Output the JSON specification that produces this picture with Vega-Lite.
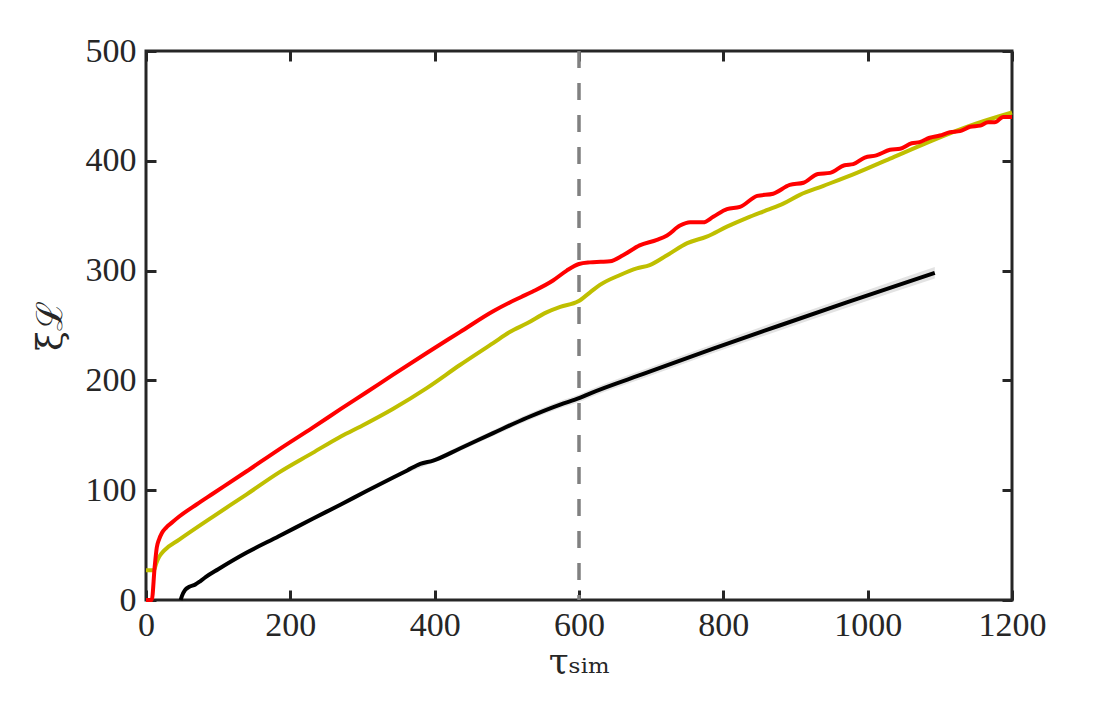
{
  "$schema": "https://vega.github.io/schema/vega-lite/v6.json",
  "width": 866,
  "height": 549,
  "autosize": {"type": "none"},
  "padding": {"left": 146, "top": 51, "right": 105, "bottom": 107},
  "background": "white",
  "config": {
    "view": {"stroke": "#262626", "strokeWidth": 3},
    "font": "Liberation Serif",
    "axis": {
      "grid": false,
      "domain": false,
      "tickColor": "#262626",
      "tickWidth": 3,
      "tickSize": -10,
      "labelFont": "Liberation Serif",
      "labelFontSize": 34,
      "labelColor": "#262626",
      "labelFlush": false,
      "format": "d",
      "titleFont": "DejaVu Serif",
      "titleFontWeight": "normal",
      "titleColor": "#262626"
    }
  },
  "datasets": {
    "band": [
      {"t": 362, "lo": 116, "hi": 120},
      {"t": 398, "lo": 125, "hi": 129},
      {"t": 435, "lo": 135.5, "hi": 140.5},
      {"t": 481, "lo": 149.3, "hi": 154.7},
      {"t": 528, "lo": 163, "hi": 169},
      {"t": 574, "lo": 174.8, "hi": 181.2},
      {"t": 601, "lo": 180.6, "hi": 187.4},
      {"t": 615, "lo": 184.5, "hi": 191.5},
      {"t": 694, "lo": 203.2, "hi": 210.8},
      {"t": 786, "lo": 225, "hi": 233},
      {"t": 878, "lo": 245.5, "hi": 254.5},
      {"t": 971, "lo": 266.2, "hi": 275.8},
      {"t": 1093, "lo": 292.8, "hi": 303.2}
    ],
    "curves": [
      {"series": "black", "t": 48, "v": 0},
      {"series": "black", "t": 50, "v": 4},
      {"series": "black", "t": 54, "v": 9},
      {"series": "black", "t": 60, "v": 12},
      {"series": "black", "t": 68, "v": 14},
      {"series": "black", "t": 75, "v": 17},
      {"series": "black", "t": 83, "v": 21},
      {"series": "black", "t": 100, "v": 28},
      {"series": "black", "t": 139, "v": 43},
      {"series": "black", "t": 184, "v": 58},
      {"series": "black", "t": 231, "v": 74},
      {"series": "black", "t": 270, "v": 87},
      {"series": "black", "t": 305, "v": 99},
      {"series": "black", "t": 362, "v": 118},
      {"series": "black", "t": 380, "v": 124},
      {"series": "black", "t": 398, "v": 127},
      {"series": "black", "t": 435, "v": 138},
      {"series": "black", "t": 481, "v": 152},
      {"series": "black", "t": 528, "v": 166},
      {"series": "black", "t": 574, "v": 178},
      {"series": "black", "t": 601, "v": 184},
      {"series": "black", "t": 615, "v": 188},
      {"series": "black", "t": 694, "v": 207},
      {"series": "black", "t": 786, "v": 229},
      {"series": "black", "t": 878, "v": 250},
      {"series": "black", "t": 971, "v": 271},
      {"series": "black", "t": 1093, "v": 298},
      {"series": "yellow", "t": 0, "v": 27},
      {"series": "yellow", "t": 5, "v": 27},
      {"series": "yellow", "t": 11, "v": 27},
      {"series": "yellow", "t": 14, "v": 33},
      {"series": "yellow", "t": 18, "v": 39},
      {"series": "yellow", "t": 25, "v": 45},
      {"series": "yellow", "t": 46, "v": 55},
      {"series": "yellow", "t": 93, "v": 76},
      {"series": "yellow", "t": 139, "v": 96},
      {"series": "yellow", "t": 184, "v": 116},
      {"series": "yellow", "t": 231, "v": 134},
      {"series": "yellow", "t": 270, "v": 149},
      {"series": "yellow", "t": 300, "v": 159},
      {"series": "yellow", "t": 342, "v": 174},
      {"series": "yellow", "t": 389, "v": 193},
      {"series": "yellow", "t": 435, "v": 214},
      {"series": "yellow", "t": 481, "v": 234},
      {"series": "yellow", "t": 504, "v": 244},
      {"series": "yellow", "t": 528, "v": 252},
      {"series": "yellow", "t": 555, "v": 262},
      {"series": "yellow", "t": 574, "v": 267},
      {"series": "yellow", "t": 599, "v": 272},
      {"series": "yellow", "t": 615, "v": 280},
      {"series": "yellow", "t": 629, "v": 287},
      {"series": "yellow", "t": 657, "v": 296},
      {"series": "yellow", "t": 680, "v": 302},
      {"series": "yellow", "t": 698, "v": 305},
      {"series": "yellow", "t": 722, "v": 314},
      {"series": "yellow", "t": 750, "v": 325},
      {"series": "yellow", "t": 777, "v": 331},
      {"series": "yellow", "t": 805, "v": 340},
      {"series": "yellow", "t": 833, "v": 348},
      {"series": "yellow", "t": 860, "v": 355},
      {"series": "yellow", "t": 883, "v": 361},
      {"series": "yellow", "t": 906, "v": 369},
      {"series": "yellow", "t": 938, "v": 377},
      {"series": "yellow", "t": 985, "v": 389},
      {"series": "yellow", "t": 1031, "v": 402},
      {"series": "yellow", "t": 1077, "v": 415},
      {"series": "yellow", "t": 1114, "v": 425},
      {"series": "yellow", "t": 1151, "v": 434},
      {"series": "yellow", "t": 1200, "v": 444},
      {"series": "red", "t": 0, "v": 0},
      {"series": "red", "t": 8, "v": 0},
      {"series": "red", "t": 12, "v": 30},
      {"series": "red", "t": 15, "v": 48},
      {"series": "red", "t": 18, "v": 55},
      {"series": "red", "t": 22, "v": 61},
      {"series": "red", "t": 28, "v": 66},
      {"series": "red", "t": 35, "v": 70},
      {"series": "red", "t": 46, "v": 76},
      {"series": "red", "t": 70, "v": 87},
      {"series": "red", "t": 93, "v": 97},
      {"series": "red", "t": 139, "v": 117},
      {"series": "red", "t": 184, "v": 137},
      {"series": "red", "t": 231, "v": 157},
      {"series": "red", "t": 270, "v": 174},
      {"series": "red", "t": 305, "v": 189},
      {"series": "red", "t": 342, "v": 205},
      {"series": "red", "t": 389, "v": 225},
      {"series": "red", "t": 435, "v": 244},
      {"series": "red", "t": 481, "v": 263},
      {"series": "red", "t": 504, "v": 271},
      {"series": "red", "t": 520, "v": 276},
      {"series": "red", "t": 536, "v": 281},
      {"series": "red", "t": 564, "v": 291},
      {"series": "red", "t": 583, "v": 300},
      {"series": "red", "t": 600, "v": 306},
      {"series": "red", "t": 615, "v": 307.5},
      {"series": "red", "t": 630, "v": 308},
      {"series": "red", "t": 643, "v": 308.5},
      {"series": "red", "t": 661, "v": 314},
      {"series": "red", "t": 684, "v": 323},
      {"series": "red", "t": 708, "v": 328},
      {"series": "red", "t": 722, "v": 332},
      {"series": "red", "t": 740, "v": 341},
      {"series": "red", "t": 754, "v": 344},
      {"series": "red", "t": 772, "v": 344},
      {"series": "red", "t": 786, "v": 349},
      {"series": "red", "t": 805, "v": 356},
      {"series": "red", "t": 823, "v": 358},
      {"series": "red", "t": 847, "v": 368},
      {"series": "red", "t": 869, "v": 370},
      {"series": "red", "t": 892, "v": 378},
      {"series": "red", "t": 911, "v": 380},
      {"series": "red", "t": 931, "v": 388},
      {"series": "red", "t": 948, "v": 389},
      {"series": "red", "t": 968, "v": 396},
      {"series": "red", "t": 980, "v": 397},
      {"series": "red", "t": 996, "v": 403},
      {"series": "red", "t": 1012, "v": 405},
      {"series": "red", "t": 1031, "v": 410},
      {"series": "red", "t": 1045, "v": 411},
      {"series": "red", "t": 1061, "v": 416},
      {"series": "red", "t": 1072, "v": 417},
      {"series": "red", "t": 1086, "v": 421},
      {"series": "red", "t": 1100, "v": 423},
      {"series": "red", "t": 1114, "v": 426},
      {"series": "red", "t": 1128, "v": 427},
      {"series": "red", "t": 1142, "v": 431},
      {"series": "red", "t": 1156, "v": 432},
      {"series": "red", "t": 1167, "v": 435},
      {"series": "red", "t": 1176, "v": 435},
      {"series": "red", "t": 1188, "v": 440},
      {"series": "red", "t": 1200, "v": 440}
    ],
    "marker": [{"t": 600}]
  },
  "resolve": {"axis": {"x": "independent", "y": "independent"}},
  "layer": [
    {
      "data": {"name": "band"},
      "mark": {"type": "area", "color": "#e3e3e3", "opacity": 1, "interpolate": "monotone"},
      "encoding": {
        "x": {
          "field": "t", "type": "quantitative",
          "scale": {"domain": [0, 1200], "nice": false},
          "axis": {"orient": "bottom", "values": [0, 200, 400, 600, 800, 1000, 1200], "labelPadding": 18, "title": "τₛᵢₘ", "titleFontSize": 36, "titlePadding": 2}
        },
        "y": {
          "field": "lo", "type": "quantitative",
          "scale": {"domain": [0, 500], "nice": false},
          "axis": {"orient": "left", "values": [0, 100, 200, 300, 400, 500], "labelPadding": 20, "title": "ξℒ", "titleFontSize": 36, "titlePadding": 16}
        },
        "y2": {"field": "hi"}
      }
    },
    {
      "data": {"name": "curves"},
      "mark": {"type": "line", "strokeWidth": 4, "interpolate": "monotone"},
      "encoding": {
        "x": {"field": "t", "type": "quantitative", "axis": {"orient": "top", "labels": false, "title": null, "values": [0, 200, 400, 600, 800, 1000, 1200]}},
        "y": {"field": "v", "type": "quantitative", "axis": {"orient": "right", "labels": false, "title": null, "values": [0, 100, 200, 300, 400, 500]}},
        "color": {
          "field": "series", "type": "nominal",
          "scale": {"domain": ["black", "yellow", "red"], "range": ["#000000", "#bfbf00", "#ff0000"]},
          "legend": null
        }
      }
    },
    {
      "data": {"name": "marker"},
      "mark": {"type": "rule", "color": "#808080", "strokeWidth": 3.5, "strokeDash": [17, 15]},
      "encoding": {
        "x": {"field": "t", "type": "quantitative", "axis": null}
      }
    }
  ]
}
